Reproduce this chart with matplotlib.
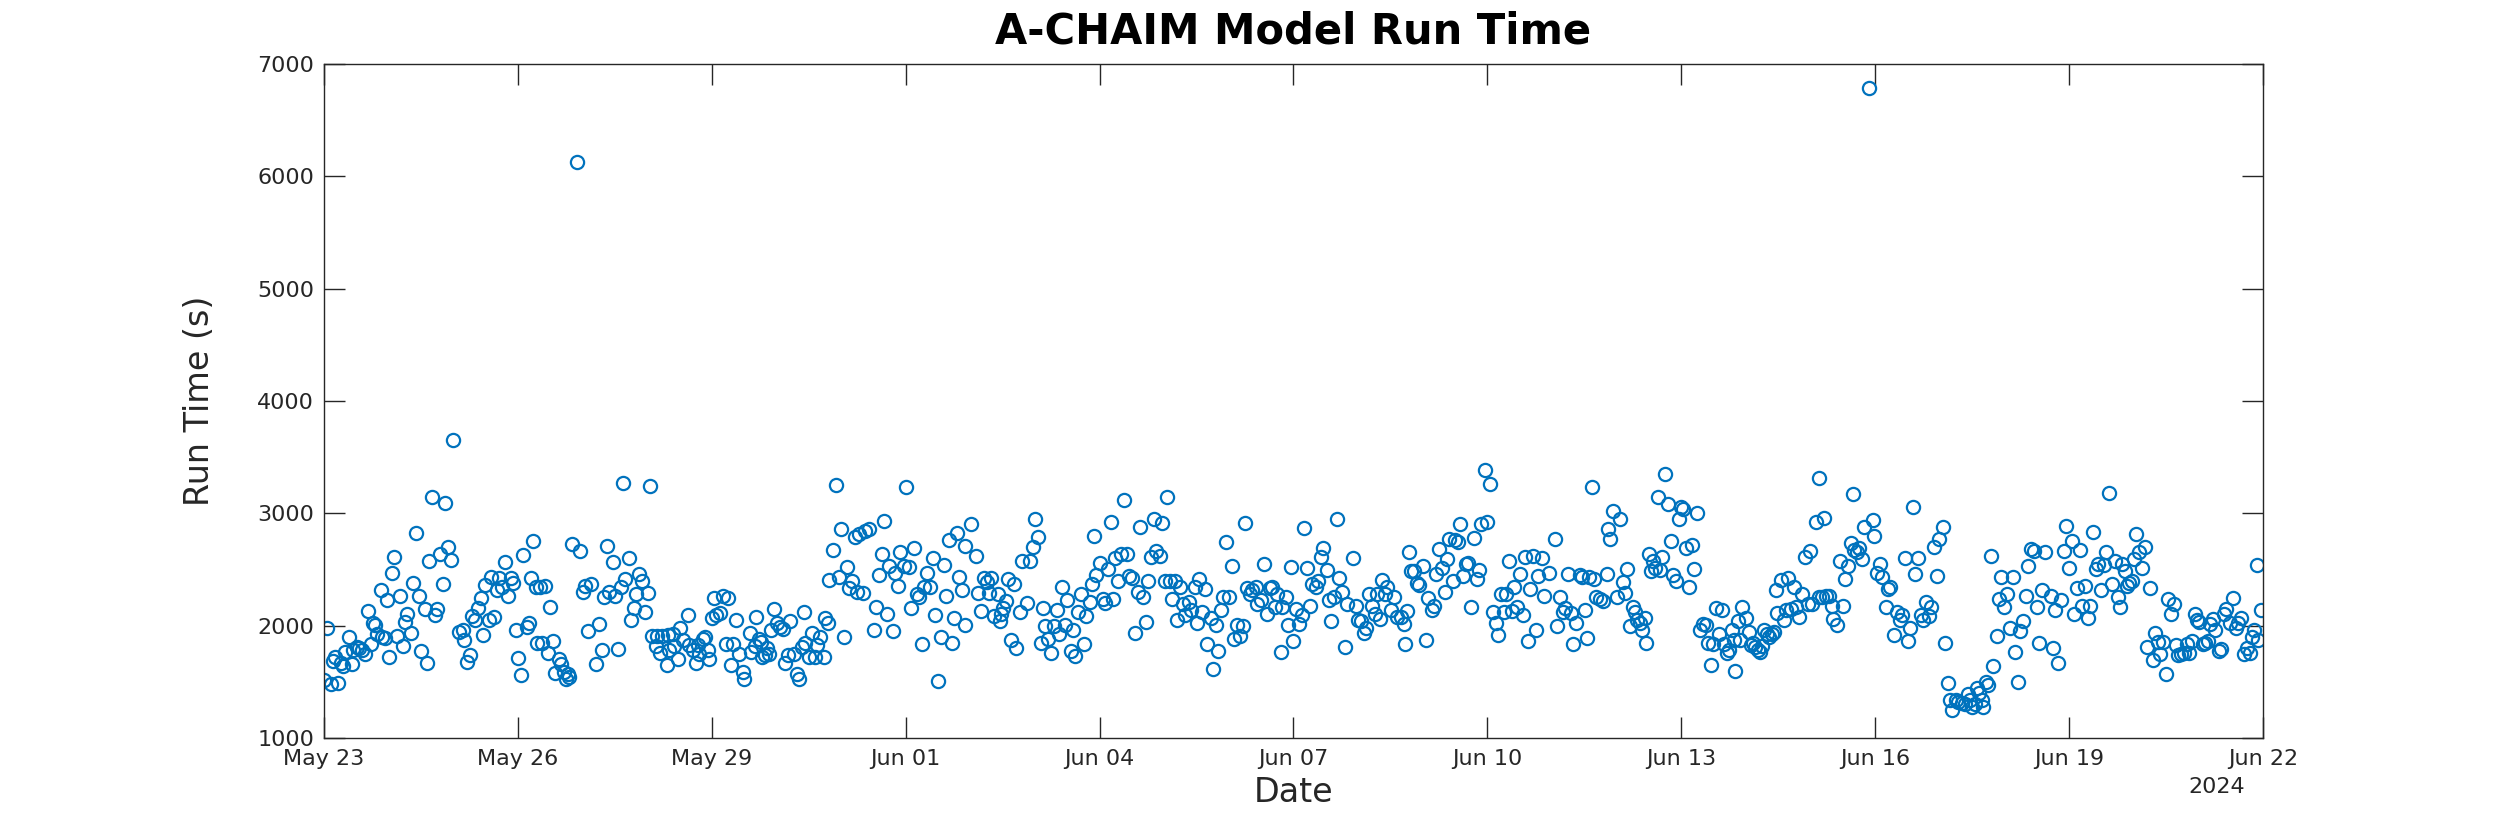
import numpy as np
import matplotlib.pyplot as plt
import matplotlib.dates as mdates

# model run times as (hours after 2024-05-23 00:00, run time in seconds)
runs_may23 = [
    (0.0, 1521), (1.2, 1982), (2.5, 1485), (3.5, 1686), (4.1, 1722), (5.3, 1491), (6.2, 1668), (7.2, 1639),
    (7.8, 1766), (9.4, 1899), (10.3, 1662), (10.9, 1781), (12.1, 1810), (13.1, 1804), (14.0, 1781), (15.2, 1751),
    (16.5, 2130), (17.3, 1840), (18.1, 2024), (18.9, 2003), (19.8, 1929), (21.0, 2319), (21.4, 1899), (22.6, 1890),
    (23.3, 2225), (24.3, 1722), (25.1, 2467), (26.0, 2609), (27.2, 1911), (28.2, 2269), (29.2, 1816), (30.1, 2032),
    (30.9, 2100), (32.2, 1935), (33.2, 2379), (34.0, 2828), (35.1, 2269), (36.1, 1772), (37.4, 2151), (38.1, 1668),
    (39.1, 2574), (40.1, 3142), (41.2, 2092), (42.1, 2148), (43.1, 2639), (44.3, 2373), (45.0, 3092), (46.2, 2704),
    (47.2, 2586), (48.0, 3654), (50.2, 1944), (51.5, 1964), (52.0, 1870), (53.2, 1677), (54.2, 1742), (54.8, 2083),
    (56.1, 2047), (57.3, 2160), (58.4, 2248), (59.2, 1920), (59.9, 2361), (61.2, 2053), (61.9, 2438), (63.1, 2077),
    (64.1, 2319), (65.1, 2423), (66.1, 2343), (67.2, 2565), (68.4, 2269), (69.3, 2423), (70.3, 2379), (71.3, 1964),
    (72.2, 1716), (73.2, 1559), (74.0, 2633), (75.3, 1988), (76.2, 2024), (76.7, 2423), (77.7, 2751), (78.7, 2349),
    (79.0, 1846),
]
runs_may26 = [
    (80.2, 2349), (80.9, 1846), (82.2, 2358), (83.2, 1760), (84.1, 2171), (85.1, 1861), (85.9, 1580), (87.1, 1701),
    (88.0, 1657), (89.2, 1589), (89.8, 1529), (90.5, 1574), (91.1, 1544), (92.1, 2728), (94.0, 6130), (95.0, 2663),
    (96.0, 2299), (97.0, 2358), (97.9, 1953), (99.1, 2373), (101.0, 1663), (102.2, 2012), (103.2, 1781), (104.1, 2260),
    (105.1, 2707), (105.9, 2299), (107.2, 2571), (108.2, 2269), (109.0, 1790), (110.3, 2343), (111.1, 3275), (111.9, 2417),
    (113.1, 2604), (114.1, 2047), (115.2, 2157), (115.8, 2278), (117.1, 2462), (118.1, 2396), (119.3, 2121), (120.2, 2290),
    (121.2, 3240), (121.8, 1905), (123.3, 1816), (123.5, 1905), (124.8, 1757), (125.5, 1905), (127.2, 1648), (127.6, 1920),
    (128.2, 1787), (129.5, 1929), (130.1, 1816), (131.3, 1707), (132.2, 1979), (133.2, 1870), (135.0, 2098), (135.4, 1825),
    (136.9, 1781), (138.1, 1668), (138.7, 1825), (139.4, 1751), (140.6, 1884), (141.6, 1899), (142.5, 1781), (143.1, 1707),
    (144.1, 2068), (144.9, 2248), (145.6, 2092), (147.0, 2112), (148.0, 2269), (149.3, 1840), (149.9, 2248), (151.1, 1648),
    (152.0, 1840), (153.0, 2047), (154.2, 1751), (155.5, 1589), (156.1, 1529), (158.0, 1935),
]
runs_may29 = [
    (158.6, 1766), (160.1, 1816), (160.4, 2077), (161.4, 1884), (162.4, 1855), (162.6, 1722), (163.6, 1737), (164.5, 1805),
    (165.3, 1751), (166.1, 1958), (167.1, 2151), (168.2, 2024), (169.4, 1988), (170.3, 1973), (171.3, 1668), (172.3, 1737),
    (173.1, 2041), (174.4, 1745), (175.6, 1574), (176.2, 1529), (177.5, 1810), (178.1, 2121), (178.7, 1846), (180.0, 1722),
    (181.2, 1935), (182.2, 1722), (183.0, 1825), (184.3, 1899), (185.5, 1722), (186.1, 2071), (187.1, 2024), (187.6, 2408),
    (189.0, 2677), (190.1, 3252), (191.1, 2432), (192.1, 2861), (193.1, 1899), (194.2, 2527), (195.0, 2337), (196.0, 2402),
    (197.3, 2793), (197.9, 2299), (198.5, 2817), (200.1, 2293), (201.0, 2840), (202.2, 2861), (204.1, 1958), (205.0, 2171),
    (206.2, 2452), (207.2, 2639), (208.0, 2929), (209.0, 2100), (209.7, 2535), (211.1, 1953), (212.1, 2467), (213.0, 2352),
    (214.0, 2660), (215.2, 2535), (216.1, 3237), (217.1, 2527), (218.1, 2157), (219.2, 2689), (220.2, 2284), (221.0, 2260),
    (222.0, 1840), (222.7, 2343), (223.9, 2467), (225.1, 2343), (226.0, 2600), (227.0, 2098), (228.0, 1509), (229.2, 1899),
    (230.1, 2541), (231.1, 2269), (231.9, 2766), (233.2, 1849), (233.8, 2068), (235.0, 2822), (235.9, 2432), (236.9, 2314),
    (237.9, 2003), (238.1, 2713),
]
runs_jun02 = [
    (240.3, 2905), (242.2, 2624), (242.8, 2290), (244.1, 2130), (245.0, 2426), (246.3, 2388), (246.8, 2290), (247.8, 2423),
    (248.8, 2083), (250.2, 2284), (250.9, 2041), (251.5, 2106), (252.1, 2160), (253.3, 2219), (254.0, 2417), (255.2, 1870),
    (256.2, 2373), (257.1, 1805), (258.3, 2121), (259.2, 2574), (261.1, 2201), (262.0, 2574), (263.2, 2704), (264.1, 2950),
    (265.1, 2787), (266.1, 1849), (267.0, 2160), (267.8, 1994), (268.8, 1884), (270.0, 1757), (271.0, 1994), (272.3, 2142),
    (272.8, 1929), (274.0, 2349), (275.2, 2003), (276.0, 2231), (277.2, 1775), (278.1, 1958), (279.0, 1728), (280.0, 2121),
    (281.2, 2278), (282.2, 1834), (283.1, 2083), (284.3, 2210), (285.2, 2373), (285.9, 2802), (286.8, 2456), (288.0, 2556),
    (289.2, 2240), (290.1, 2201), (291.1, 2506), (292.1, 2920), (293.1, 2240), (293.9, 2604), (294.8, 2402), (296.0, 2639),
    (297.0, 3118), (298.3, 2639), (299.1, 2447), (300.0, 2426), (301.0, 1935), (302.2, 2299), (303.1, 2882), (304.1, 2260),
    (305.1, 2032), (305.9, 2396), (307.2, 2609), (308.2, 2950), (309.0, 2669), (310.3, 2624), (311.1, 2911), (312.1, 2402),
    (313.1, 3148), (314.0, 2402), (314.9, 2240), (315.9, 2402), (316.8, 2047), (317.7, 2343), (318.9, 2195), (319.6, 2092),
]
runs_jun06 = [
    (321.2, 2210), (321.8, 2136), (323.3, 2343), (324.0, 2024), (324.9, 2417), (326.1, 2121), (327.0, 2328), (328.0, 1840),
    (329.2, 2071), (330.2, 1618), (331.1, 2003), (331.9, 1775), (333.2, 2136), (333.9, 2260), (334.9, 2748), (336.0, 2260),
    (337.0, 2535), (337.9, 1884), (338.9, 2003), (340.1, 1905), (341.3, 2000), (342.1, 2914), (342.8, 2337), (343.8, 2278),
    (344.7, 2314), (345.9, 2343), (346.5, 2195), (347.8, 2225), (349.0, 2550), (350.0, 2106), (351.2, 2337), (352.1, 2349),
    (353.0, 2166), (354.0, 2284), (355.2, 1766), (355.8, 2166), (357.1, 2260), (357.9, 2009), (359.2, 2521), (359.9, 1864),
    (361.1, 2151), (362.0, 2012), (363.2, 2092), (363.9, 2870), (365.1, 2512), (366.1, 2180), (367.0, 2373), (368.2, 2343),
    (369.2, 2402), (370.1, 2615), (371.0, 2689), (372.3, 2500), (373.2, 2225), (374.0, 2041), (375.0, 2254), (376.0, 2950),
    (376.9, 2423), (378.1, 2299), (379.1, 1810), (380.0, 2195), (382.2, 2604), (383.1, 2180), (383.9, 2047), (384.9, 2041),
    (386.2, 1935), (387.1, 1982), (388.0, 2284), (389.2, 2180), (390.1, 2106), (391.1, 2278), (392.1, 2062), (393.0, 2408),
    (394.0, 2284), (394.8, 2343), (396.1, 2136), (397.3, 2254), (398.5, 2077),
]
runs_jun09 = [
    (400.1, 2077), (401.0, 2018), (401.4, 1840), (402.2, 2130), (403.0, 2654), (403.8, 2491), (404.7, 2491), (405.7, 2379),
    (406.7, 2367), (408.2, 2535), (409.2, 1876), (410.0, 2248), (411.3, 2136), (412.1, 2180), (412.9, 2462), (414.1, 2683),
    (415.0, 2515), (416.2, 2299), (417.1, 2595), (417.8, 2772), (419.1, 2402), (419.9, 2763), (421.2, 2743), (422.0, 2905),
    (423.0, 2447), (424.0, 2550), (424.9, 2556), (425.9, 2166), (427.0, 2781), (428.2, 2417), (429.0, 2497), (429.8, 2905),
    (431.1, 3388), (431.9, 2920), (432.9, 3260), (433.9, 2121), (435.2, 2024), (436.0, 1920), (437.0, 2278), (438.1, 2121),
    (438.9, 2284), (440.1, 2574), (441.0, 2127), (442.0, 2349), (443.1, 2166), (444.1, 2462), (445.3, 2092), (445.9, 2609),
    (446.9, 1864), (448.0, 2328), (449.0, 2624), (450.0, 1958), (450.9, 2447), (452.1, 2604), (453.1, 2263), (455.0, 2467),
    (457.1, 2772), (457.9, 1994), (458.9, 2254), (459.9, 2121), (460.8, 2160), (462.0, 2462), (462.9, 2112), (463.9, 1834),
    (464.9, 2024), (466.4, 2456), (467.3, 2438), (468.2, 2142), (469.1, 1893), (469.8, 2432), (470.7, 3231), (471.6, 2417),
    (472.5, 2254), (473.8, 2240), (474.8, 2216), (476.3, 2462), (476.9, 2861), (477.7, 2772), (478.7, 3018),
]
runs_jun12 = [
    (480.0, 2260), (481.2, 2950), (482.2, 2388), (483.2, 2290), (484.0, 2506), (484.9, 1994), (485.9, 2171), (486.9, 2121),
    (487.7, 2053), (488.6, 2024), (489.4, 1958), (490.6, 2071), (490.8, 1846), (492.1, 2639), (492.7, 2485), (493.6, 2574),
    (494.3, 2515), (495.2, 3148), (496.0, 2497), (497.0, 2609), (498.0, 3355), (498.9, 3083), (500.1, 2751), (501.0, 2456),
    (502.0, 2402), (503.0, 2950), (503.8, 3059), (504.8, 3038), (505.7, 2692), (506.9, 2349), (507.9, 2722), (508.9, 2506),
    (509.9, 3000), (510.9, 1958), (512.1, 2018), (513.1, 2003), (514.1, 1846), (515.1, 1648), (515.8, 1840), (516.8, 2160),
    (518.1, 1923), (519.1, 2142), (519.9, 1834), (520.9, 1757), (521.8, 1787), (522.8, 1964), (523.6, 1875), (524.0, 1597),
    (524.9, 2041), (525.8, 1875), (526.7, 2166), (528.0, 2071), (529.0, 1944), (529.8, 1825), (530.7, 1846), (531.4, 1810),
    (532.3, 1787), (533.2, 1766), (533.9, 1816), (534.8, 1958), (535.7, 1929), (536.6, 1899), (537.6, 1923), (538.5, 1944),
    (539.1, 2319), (539.7, 2112), (541.0, 2408), (542.0, 2047), (542.8, 2142), (543.8, 2426), (544.7, 2151), (545.7, 2349),
    (546.6, 2166), (547.8, 2077), (548.8, 2284), (550.0, 2615), (550.9, 2195), (551.8, 2669), (552.7, 2195), (554.0, 2920),
    (555.0, 3314), (555.2, 2254), (556.2, 2260), (557.1, 2959), (557.9, 2269), (558.9, 2269),
]
runs_jun16 = [
    (559.8, 2180), (560.3, 2062), (561.8, 2003), (563.0, 2574), (564.2, 2180), (564.9, 2417), (565.8, 2535), (567.1, 2734),
    (567.9, 3172), (568.3, 2674), (569.2, 2654), (569.8, 2692), (571.0, 2595), (571.7, 2882), (573.8, 6785), (575.0, 2944),
    (575.7, 2802), (576.6, 2467), (577.9, 2550), (578.7, 2432), (580.0, 2166), (580.7, 2328), (581.6, 2343), (582.8, 1914),
    (584.0, 2121), (585.3, 2047), (585.9, 2092), (586.9, 2604), (588.1, 1864), (589.0, 1982), (589.9, 3053), (590.9, 2462),
    (591.8, 2604), (593.1, 2092), (593.9, 2047), (594.8, 2210), (595.8, 2083), (596.8, 2166), (597.7, 2704), (598.9, 2447),
    (599.8, 2772), (601.0, 2876), (602.0, 1846), (603.0, 1491), (603.8, 1343), (604.7, 1254), (605.9, 1337), (606.9, 1322),
    (608.2, 1313), (609.4, 1307), (610.4, 1390), (611.3, 1337), (612.1, 1278), (612.9, 1302), (613.8, 1449), (614.6, 1402),
    (615.6, 1337), (616.2, 1278), (617.1, 1500), (617.8, 1470), (619.1, 2624), (619.9, 1642), (621.2, 1905), (621.8, 2240),
    (622.8, 2432), (623.7, 2171), (624.9, 2278), (626.1, 1982), (627.0, 2432), (628.0, 1766), (629.0, 1500), (629.8, 1953),
    (630.7, 2041), (631.9, 2269), (632.9, 2535), (633.9, 2683), (634.8, 2663), (636.0, 2166), (636.9, 1846), (638.1, 2314),
    (639.1, 2654),
]
runs_jun19 = [
    (641.3, 2269), (642.0, 1805), (642.8, 2136), (643.8, 1668), (645.1, 2231), (646.0, 2663), (646.9, 2890), (647.8, 2515),
    (649.0, 2757), (650.0, 2100), (651.0, 2337), (652.0, 2674), (652.7, 2180), (654.0, 2352), (655.0, 2068), (655.9, 2180),
    (656.8, 2837), (658.0, 2506), (658.9, 2550), (659.9, 2314), (660.9, 2544), (661.8, 2654), (662.8, 3178), (663.9, 2373),
    (664.9, 2580), (666.1, 2260), (666.8, 2166), (667.6, 2550), (668.6, 2491), (669.6, 2358), (670.4, 2379), (671.3, 2396),
    (672.0, 2595), (672.9, 2817), (673.8, 2654), (675.0, 2515), (676.0, 2704), (677.0, 1810), (677.9, 2337), (679.1, 1692),
    (680.0, 1935), (680.9, 1855), (681.9, 1745), (682.8, 1855), (684.0, 1574), (684.9, 2240), (685.9, 2106), (686.9, 2189),
    (687.8, 1825), (688.6, 1737), (689.6, 1745), (690.6, 1757), (691.9, 1840), (692.7, 1757), (693.6, 1864), (694.6, 2100),
    (695.6, 2047), (696.4, 2032), (697.7, 1840), (698.5, 1846), (699.5, 1864), (700.5, 2018), (701.4, 2062), (702.2, 1958),
    (703.5, 1775), (704.5, 1796), (705.5, 2100), (706.3, 2151), (707.6, 2024), (708.8, 2248), (710.0, 1982), (710.9, 2024),
    (711.9, 2071), (713.1, 1745), (714.1, 1805), (715.0, 1757), (715.9, 1899), (716.6, 1958), (717.8, 2544), (718.3, 1870),
    (719.3, 2136),
]

start = np.datetime64('2024-05-23T00:00')
end = np.datetime64('2024-06-22T00:00')

all_runs = runs_may23 + runs_may26 + runs_may29 + runs_jun02 + runs_jun06 + runs_jun09 + runs_jun12 + runs_jun16 + runs_jun19
hrs = np.array([r[0] for r in all_runs])
secs = np.array([r[1] for r in all_runs])
times = start + np.round(hrs * 60).astype('timedelta64[m]')

dark = '#262626'

fig = plt.figure(figsize=(25, 8.33), dpi=100)
ax = fig.add_axes([0.1296, 0.114, 0.7756, 0.809])
ax.plot(times, secs, linestyle='', marker='o', markersize=9.5,
        markerfacecolor='none', markeredgecolor='#0072BD', markeredgewidth=1.6)

ax.set_xlim(start, end)
ax.set_ylim(1000, 7000)
ax.set_xticks(start + np.arange(0, 31, 3).astype('timedelta64[D]'))
ax.xaxis.set_major_formatter(mdates.DateFormatter('%b %d'))
ax.set_yticks(np.arange(1000, 7001, 1000))

ax.tick_params(direction='in', top=True, right=True, length=15, width=1,
               color=dark, labelcolor=dark, labelsize=16)
ax.tick_params(axis='x', pad=8)
ax.tick_params(axis='y', pad=7)
for s in ax.spines.values():
    s.set_color(dark)
    s.set_linewidth(1)

ax.set_xlabel('Date', fontsize=24, color=dark, labelpad=5)
ax.set_ylabel('Run Time (s)', fontsize=24, color=dark, labelpad=30)
ax.set_title('A-CHAIM Model Run Time', fontsize=30, fontweight='bold', pad=15)
ax.text(0.976, -0.072, '2024', transform=ax.transAxes, fontsize=16, color=dark,
        ha='center', va='center')

fig.savefig('out.png', dpi=100, facecolor='white')
